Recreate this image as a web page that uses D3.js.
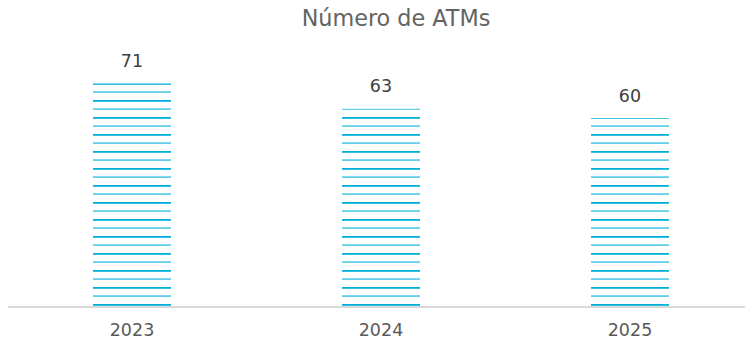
<!DOCTYPE html>
<html>
<head>
<meta charset="utf-8">
<script src="https://cdn.jsdelivr.net/npm/d3@7"></script>
<style>
  html, body { margin: 0; padding: 0; background: #fff; }
  svg { display: block; font-family: "DejaVu Sans", Verdana, sans-serif; }
</style>
</head>
<body>
<svg id="chart" width="745" height="347"></svg>
<script>
// Chart data
const chartTitle = "Número de ATMs";
const years = ["2023", "2024", "2025"];
const atmCounts = [71, 63, 60];

const W = 745, H = 347;
const baseY = 307;
const svg = d3.select("#chart");

const x = d3.scaleBand()
  .domain(years)
  .range([7.5, 754.5])
  .paddingInner(0.687)
  .paddingOuter(0.3435);

const y = d3.scaleLinear()
  .domain([0, 71])
  .range([baseY, 83.5]);

// Horizontal-stripe fill: alternating thick and thin cyan lines
const defs = svg.append("defs");
const pat = defs.append("pattern")
  .attr("id", "stripes")
  .attr("patternUnits", "userSpaceOnUse")
  .attr("x", 0).attr("y", 83)
  .attr("width", 10).attr("height", 17);
pat.append("rect").attr("x", 0).attr("y", 0).attr("width", 10).attr("height", 1.8).attr("fill", "#00b0da");
pat.append("rect").attr("x", 0).attr("y", 8.5).attr("width", 10).attr("height", 1.1).attr("fill", "#00b0da");

// Title
svg.append("text")
  .attr("x", 396).attr("y", 26)
  .attr("text-anchor", "middle")
  .attr("fill", "#636363")
  .attr("font-size", 22.3)
  .text(chartTitle);

// Bars
svg.append("g").selectAll("rect")
  .data(years.map((yr, i) => ({ yr, v: atmCounts[i] })))
  .join("rect")
  .attr("x", d => x(d.yr))
  .attr("y", d => y(d.v))
  .attr("width", x.bandwidth())
  .attr("height", d => y(0) - y(d.v))
  .attr("fill", "url(#stripes)");

// Value labels
svg.append("g").selectAll("text")
  .data(years.map((yr, i) => ({ yr, v: atmCounts[i] })))
  .join("text")
  .attr("x", d => x(d.yr) + x.bandwidth() / 2)
  .attr("y", d => y(d.v) - 16.5)
  .attr("text-anchor", "middle")
  .attr("fill", "#404040")
  .attr("font-size", 17.5)
  .text(d => d.v);

// Category axis
const axis = svg.append("g")
  .attr("transform", `translate(0,${baseY})`)
  .call(d3.axisBottom(x).tickSize(0).tickPadding(17));
axis.select(".domain").remove();
axis.append("line")
  .attr("x1", 8).attr("x2", W)
  .attr("y1", 0).attr("y2", 0)
  .attr("stroke", "#d9d9d9").attr("stroke-width", 2);
axis.selectAll(".tick text")
  .attr("fill", "#595959")
  .attr("font-size", 17.5)
  .attr("font-family", "DejaVu Sans, Verdana, sans-serif");
</script>
</body>
</html>
